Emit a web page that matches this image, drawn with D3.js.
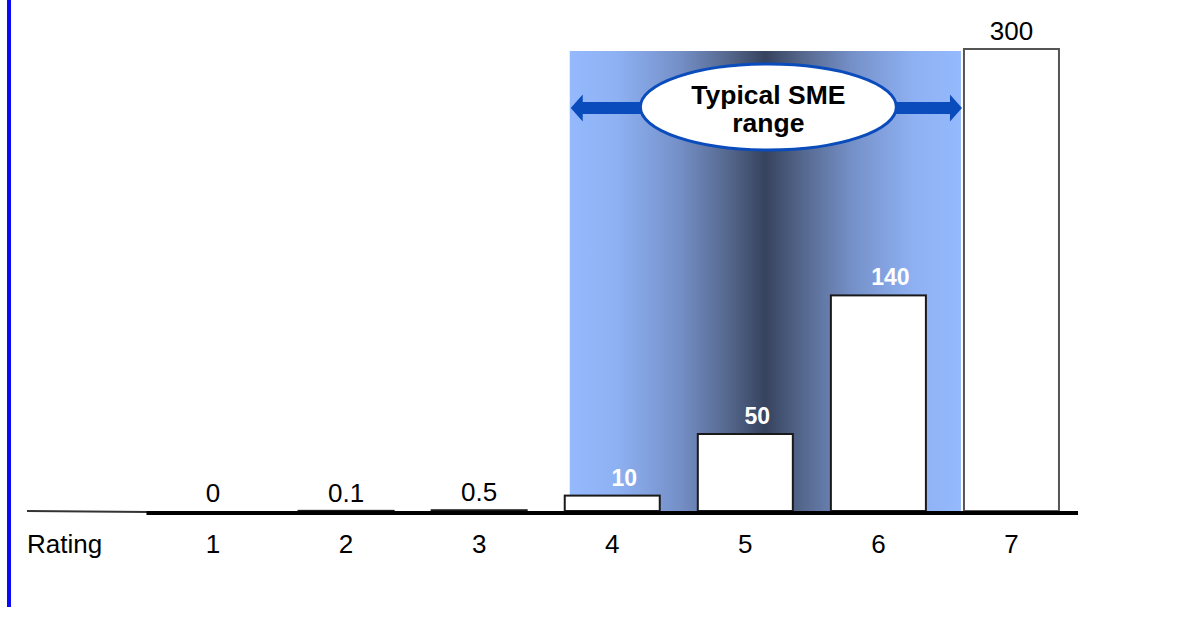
<!DOCTYPE html>
<html>
<head>
<meta charset="utf-8">
<script src="https://cdn.jsdelivr.net/npm/d3@7"></script>
<style>
  html, body { margin: 0; padding: 0; background: #fff; }
  svg { display: block; font-family: "Liberation Sans", Arial, sans-serif; }
</style>
</head>
<body>
<svg id="chart" width="1184" height="621"></svg>
<script>
// Rating categories and the value for each rating
const ratings = ["1", "2", "3", "4", "5", "6", "7"];
const values = [0, 0.1, 0.5, 10, 50, 140, 300];
const valueLabels = ["0", "0.1", "0.5", "10", "50", "140", "300"];
// Ratings covered by the highlighted band
const smeRange = ["4", "5", "6"];
const axisTitle = "Rating";
const calloutLines = ["Typical SME", "range"];

const svg = d3.select("#chart");

const x = d3.scaleBand()
  .domain(ratings)
  .range([146.5, 1078])
  .paddingInner(0.286)
  .paddingOuter(0.143);

const y = d3.scaleLinear()
  .domain([0, 300])
  .range([511, 49]);

// Left accent rule
svg.append("rect")
  .attr("x", 7).attr("y", 0)
  .attr("width", 4).attr("height", 607)
  .attr("fill", "#0a0af5");

// Horizontal gradient for the highlighted band
const defs = svg.append("defs");
const grad = defs.append("linearGradient")
  .attr("id", "bandGrad")
  .attr("x1", "0%").attr("x2", "100%")
  .attr("y1", "0%").attr("y2", "0%");
[
  [0, "#94b9fc"], [0.12, "#8eb1f3"], [0.28, "#7590c8"], [0.4, "#56698f"],
  [0.5, "#36435e"], [0.6, "#56698f"], [0.72, "#7590c8"], [0.88, "#8eb1f3"], [1, "#94b9fc"]
].forEach(([o, c]) => grad.append("stop").attr("offset", o).attr("stop-color", c));

const bandX0 = x(smeRange[0]) + 5;
const bandX1 = x("7") - 3;
const bandTop = y(300) + 2;
svg.append("rect")
  .attr("x", bandX0).attr("y", bandTop)
  .attr("width", bandX1 - bandX0)
  .attr("height", y(0) - bandTop)
  .attr("fill", "url(#bandGrad)");

// Callout: double arrow with an ellipse label
const arrowY = 108;
const cx = (bandX0 + bandX1) / 2 + 3;
const cy = 107;
const rx = 128, ry = 43;
const arrowColor = "#0a4cbc";
const shaftH = 12, headH = 27, headL = 12;

function arrow(tipX, dir) {
  // dir = -1 points left, +1 points right; shaft starts inside the ellipse
  const baseX = cx + dir * (rx - 10);
  const headBase = tipX - dir * headL;
  const pts = [
    [baseX, arrowY - shaftH / 2],
    [headBase, arrowY - shaftH / 2],
    [headBase, arrowY - headH / 2],
    [tipX, arrowY],
    [headBase, arrowY + headH / 2],
    [headBase, arrowY + shaftH / 2],
    [baseX, arrowY + shaftH / 2]
  ];
  svg.append("path")
    .attr("d", d3.line()(pts) + "Z")
    .attr("fill", arrowColor);
}
arrow(bandX0 + 1, -1);
arrow(bandX1 + 1, 1);

svg.append("ellipse")
  .attr("cx", cx).attr("cy", cy)
  .attr("rx", rx).attr("ry", ry)
  .attr("fill", "#fff")
  .attr("stroke", arrowColor)
  .attr("stroke-width", 3);

svg.append("text")
  .attr("x", cx).attr("y", 104)
  .attr("text-anchor", "middle")
  .attr("font-weight", "bold")
  .attr("font-size", 26.5)
  .selectAll("tspan")
  .data(calloutLines)
  .join("tspan")
  .attr("x", cx)
  .attr("dy", (d, i) => i === 0 ? 0 : 28)
  .text(d => d);

// Bars
const data = ratings.map((r, i) => ({ rating: r, value: values[i], label: valueLabels[i] }));

svg.append("g")
  .selectAll("rect")
  .data(data)
  .join("rect")
  .attr("x", d => x(d.rating))
  .attr("y", d => y(d.value))
  .attr("width", x.bandwidth())
  .attr("height", d => y(0) - y(d.value))
  .attr("fill", "#fff")
  .attr("stroke", d => d.rating === "7" ? "#555" : "#1a1a1a")
  .attr("stroke-width", 2);

// Baseline: thin lead-in segment, then the thick axis line
svg.append("line")
  .attr("x1", 27).attr("x2", x.range()[0] + 2)
  .attr("y1", 511).attr("y2", 512)
  .attr("stroke", "#333").attr("stroke-width", 2);
svg.append("line")
  .attr("x1", x.range()[0]).attr("x2", x.range()[1])
  .attr("y1", 513).attr("y2", 513)
  .attr("stroke", "#000").attr("stroke-width", 4);

// Value labels (white bold inside the highlighted band, set slightly right of centre)
const inBand = d => smeRange.includes(d.rating);
svg.append("g")
  .selectAll("text")
  .data(data)
  .join("text")
  .attr("x", d => x(d.rating) + x.bandwidth() / 2 + (inBand(d) ? 12 : 0))
  .attr("y", d => y(d.value) - (inBand(d) ? 10 : 9))
  .attr("text-anchor", "middle")
  .attr("font-size", d => inBand(d) ? 23 : 26)
  .attr("font-weight", d => inBand(d) ? "bold" : "normal")
  .attr("fill", d => inBand(d) ? "#fff" : "#000")
  .text(d => d.label);

// Category axis labels
const xAxis = d3.axisBottom(x).tickSize(0).tickPadding(0);
const axisG = svg.append("g")
  .attr("transform", "translate(0,535)")
  .call(xAxis);
axisG.select(".domain").remove();
axisG.selectAll("text")
  .attr("font-size", 26)
  .attr("font-family", "Liberation Sans, Arial, sans-serif")
  .attr("fill", "#000")
  .attr("dy", "0.71em");

svg.append("text")
  .attr("x", 27).attr("y", 535)
  .attr("dy", "0.71em")
  .attr("font-size", 26)
  .text(axisTitle);
</script>
</body>
</html>
